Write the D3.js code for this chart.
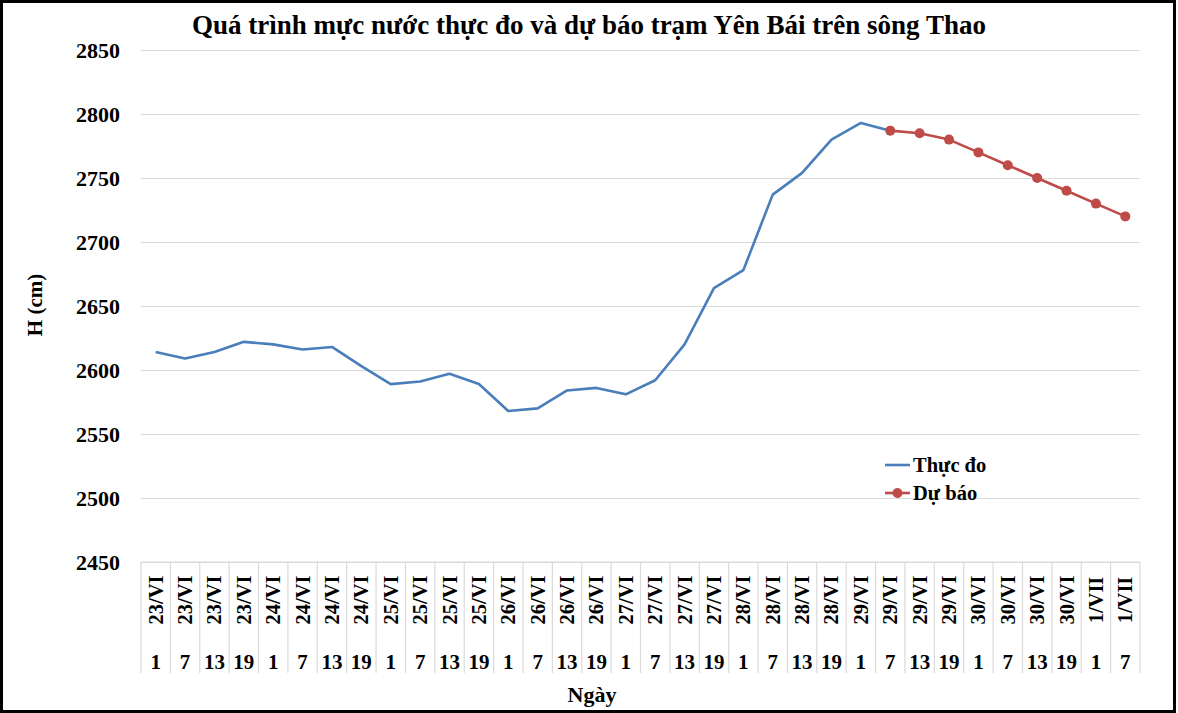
<!DOCTYPE html>
<html><head><meta charset="utf-8">
<script src="https://cdn.jsdelivr.net/npm/d3@7"></script>
<style>body{margin:0;background:#fff}svg{display:block}text{font-family:"Liberation Serif","Times New Roman",serif;font-weight:bold;fill:#000}</style>
</head><body>
<svg id="c" width="1178" height="713"></svg>
<script>
const days = ["23/VI","23/VI","23/VI","23/VI","24/VI","24/VI","24/VI","24/VI","25/VI","25/VI","25/VI","25/VI","26/VI","26/VI","26/VI","26/VI","27/VI","27/VI","27/VI","27/VI","28/VI","28/VI","28/VI","28/VI","29/VI","29/VI","29/VI","29/VI","30/VI","30/VI","30/VI","30/VI","1/VII","1/VII"];
const hours = ["1","7","13","19","1","7","13","19","1","7","13","19","1","7","13","19","1","7","13","19","1","7","13","19","1","7","13","19","1","7","13","19","1","7"];
const actual = [2614,2609,2614,2622,2620,2616,2618,2603,2589,2591,2597,2589,2568,2570,2584,2586,2581,2592,2620,2664,2678,2737,2754,2780,2793,2787,null,null,null,null,null,null,null,null];
const forecast = [null,null,null,null,null,null,null,null,null,null,null,null,null,null,null,null,null,null,null,null,null,null,null,null,null,2787,2785,2780,2770,2760,2750,2740,2730,2720];
const yTicks = [2450,2500,2550,2600,2650,2700,2750,2800,2850];
const title = "Quá trình mực nước thực đo và dự báo trạm Yên Bái trên sông Thao";
const seriesNames = ["Thực đo","Dự báo"];

const svg = d3.select("#c");
const L = 141, R = 1140, T = 50, B = 562;
const idx = d3.range(days.length);
const x = d3.scaleBand().domain(idx).range([L, R]).padding(0);
const y = d3.scaleLinear().domain([2450, 2850]).range([B, T]);
const cx = i => x(i) + x.bandwidth() / 2;

// border
svg.append("rect").attr("x", 1.5).attr("y", 1.5).attr("width", 1173).attr("height", 710)
  .attr("fill", "none").attr("stroke", "#000").attr("stroke-width", 3);

// gridlines
const grid = svg.append("g").attr("transform", `translate(${L},0)`)
  .call(d3.axisLeft(y).tickValues(yTicks).tickSize(-(R - L)).tickFormat(""));
grid.select(".domain").remove();
grid.selectAll("line").attr("stroke", "#d9d9d9").attr("stroke-width", 1.2);

// y labels
const ya = svg.append("g").attr("transform", `translate(120,0)`)
  .call(d3.axisLeft(y).tickValues(yTicks).tickSize(0).tickPadding(0).tickFormat(d3.format("d")));
ya.select(".domain").remove();
ya.selectAll("text").attr("font-size", 22).attr("font-family", "Liberation Serif").attr("font-weight", "bold").attr("fill", "#000").attr("dy", "0.35em");

// x axis separators
const xg = svg.append("g");
xg.selectAll("line.sep").data(d3.range(days.length + 1)).join("line")
  .attr("x1", i => L + i * x.bandwidth()).attr("x2", i => L + i * x.bandwidth())
  .attr("y1", B).attr("y2", 673).attr("stroke", "#d9d9d9").attr("stroke-width", 1.2);
xg.append("line").attr("x1", L).attr("x2", R).attr("y1", B).attr("y2", B).attr("stroke", "#d9d9d9").attr("stroke-width", 1.2);
xg.selectAll("text.day").data(idx).join("text").attr("class", "day")
  .attr("transform", i => `translate(${cx(i) + 7},600) rotate(-90)`)
  .attr("text-anchor", "middle").attr("font-size", 20.5).text(i => days[i]);
xg.selectAll("text.hr").data(idx).join("text").attr("class", "hr")
  .attr("x", cx).attr("y", 669).attr("text-anchor", "middle").attr("font-size", 21).text(i => hours[i]);

// axis titles
svg.append("text").attr("x", 592).attr("y", 702).attr("text-anchor", "middle").attr("font-size", 22).text("Ngày");
svg.append("text").attr("transform", "translate(42,305) rotate(-90)").attr("text-anchor", "middle").attr("font-size", 21).text("H (cm)");
svg.append("text").attr("x", 589).attr("y", 34).attr("text-anchor", "middle").attr("font-size", 27).text(title);

// lines
const line = d3.line().defined(d => d.v !== null).x(d => cx(d.i)).y(d => y(d.v));
const blue = "#4a7ebb", red = "#be4b48";
svg.append("path").datum(actual.map((v, i) => ({ i, v })))
  .attr("d", line).attr("fill", "none").attr("stroke", blue).attr("stroke-width", 2.6).attr("stroke-linejoin", "round");
const fd = forecast.map((v, i) => ({ i, v }));
svg.append("path").datum(fd).attr("d", line).attr("fill", "none").attr("stroke", red).attr("stroke-width", 2.6).attr("stroke-linejoin", "round");
svg.selectAll("circle.f").data(fd.filter(d => d.v !== null)).join("circle")
  .attr("cx", d => cx(d.i)).attr("cy", d => y(d.v)).attr("r", 5).attr("fill", red);

// legend
const lg = svg.append("g");
lg.append("line").attr("x1", 885).attr("x2", 910).attr("y1", 465).attr("y2", 465).attr("stroke", blue).attr("stroke-width", 2.6);
lg.append("text").attr("x", 913).attr("y", 472).attr("font-size", 20.5).text(seriesNames[0]);
lg.append("line").attr("x1", 885).attr("x2", 910).attr("y1", 493).attr("y2", 493).attr("stroke", red).attr("stroke-width", 2.6);
lg.append("circle").attr("cx", 897.5).attr("cy", 493).attr("r", 5).attr("fill", red);
lg.append("text").attr("x", 913).attr("y", 500).attr("font-size", 20.5).text(seriesNames[1]);
</script>
</body></html>
